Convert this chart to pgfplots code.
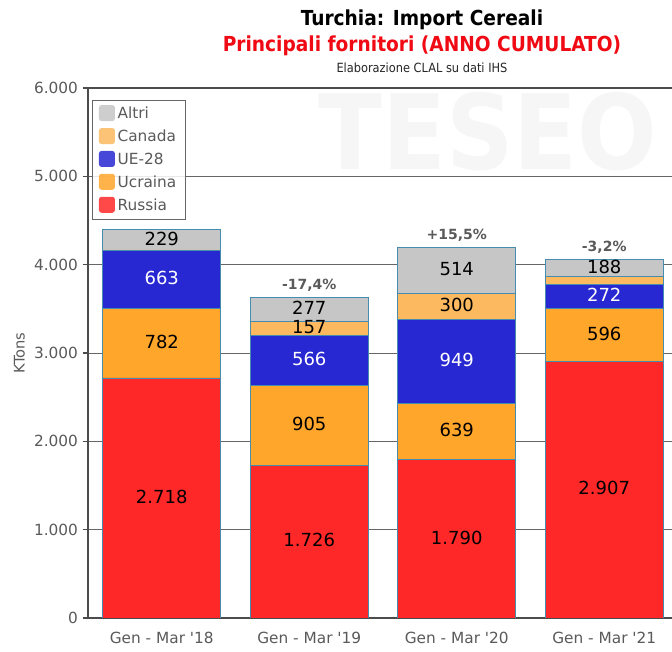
\documentclass[border=0pt]{standalone}
\usepackage{fontspec}
\setmainfont{DejaVu Sans}[Ligatures=TeXOff]
\newfontfamily\condfont{DejaVu Sans Condensed}
\usepackage{pgfplots}
\usepackage{pgfplotstable}
\pgfplotsset{compat=1.18}

\definecolor{cRussia}{RGB}{255,40,40}
\definecolor{cUcraina}{RGB}{255,166,43}
\definecolor{cUE}{RGB}{40,40,210}
\definecolor{cCanada}{RGB}{252,185,95}
\definecolor{cAltri}{RGB}{198,198,198}
\definecolor{cEdge}{RGB}{70,140,175}
\definecolor{cTxt}{RGB}{90,90,90}

\pgfplotstableread{
x russia ucraina ue canada altri
0 2718 782 663 4 229
1 1726 905 566 157 277
2 1790 639 949 300 514
3 2907 596 272 95 188
}\datatable

\pgfplotstableread{
x y lab
0 1359 2.718
0 3109 782
0 4281.5 229
1 863 1.726
1 2178.5 905
1 3275.5 157
1 3492.5 277
2 895 1.790
2 2109.5 639
2 3528 300
2 3935 514
3 1453.5 2.907
3 3205 596
3 3964 188
}\blacklabels

\pgfplotstableread{
x y lab
0 3831.5 663
1 2914 566
2 2903.5 949
3 3639 272
}\whitelabels

\pgfplotstableread{
x y lab
1 3631 {-17,4\%}
2 4192 {+15,5\%}
3 4058 {-3,2\%}
}\pctlabels

\newcommand{\ap}{{\char"27}}

\begin{document}
\begin{tikzpicture}
\useasboundingbox (0,0) rectangle (504pt,489pt);
\clip (0,0) rectangle (504pt,489pt);
\fill[white] (0,0) rectangle (504pt,489pt);

% watermark
\node[text=black!3.5, font=\condfont\bfseries\fontsize{78}{80}\selectfont] at (366pt,390pt) {TESEO};

% titles
\node[font=\condfont\bfseries\fontsize{15.5}{17}\selectfont, text=black] at (316.5pt,474pt) {Turchia: Import Cereali};
\node[font=\condfont\bfseries\fontsize{15.5}{17}\selectfont, text={rgb,255:red,240;green,10;blue,20}] at (316.5pt,455pt) {Principali fornitori (ANNO CUMULATO)};
\node[font=\condfont\fontsize{9.5}{11}\selectfont, text=black!85] at (316.5pt,438pt) {Elaborazione CLAL su dati IHS};

\begin{axis}[
  at={(66pt,25.5pt)}, anchor=south west,
  scale only axis, width=442.5pt, height=397.5pt,
  ybar stacked, bar width=0.8,
  xmin=-0.5, xmax=3.5, ymin=0, ymax=6000,
  xtick={0,1,2,3},
  xticklabels={Gen - Mar \ap18, Gen - Mar \ap19, Gen - Mar \ap20, Gen - Mar \ap21},
  x tick style={draw=none},
  extra x ticks={0.5,1.5,2.5},
  extra x tick labels={},
  extra x tick style={tick style={draw=black!70, line width=0.8pt}, major tick length=4pt, tick align=outside},
  ytick={0,1000,2000,3000,4000,5000,6000},
  y tick style={draw=black!70, line width=0.8pt},
  major tick length=4pt, tick align=outside,
  yticklabel style={/pgf/number format/1000 sep={.}, /pgf/number format/assume math mode=true},
  ticklabel style={font=\fontsize{11.5}{13}\selectfont, text=cTxt},
  xticklabel style={yshift=-3pt},
  ylabel={KTons}, ylabel style={font=\fontsize{11}{13}\selectfont, text=cTxt, yshift=0pt},
  ymajorgrids, grid style={draw=black!60, line width=0.6pt},
  axis line style={draw=black!70, line width=1.1pt},
  every axis plot/.append style={draw=cEdge, line width=0.6pt},
  reverse legend,
  legend cell align=left,
  legend style={at={(0,1)}, anchor=north west, xshift=3pt, yshift=-9pt,
    draw=black!60, fill=white, fill opacity=0.85, text opacity=1,
    font=\fontsize{11.5}{13}\selectfont, text=cTxt,
    row sep=3pt, inner xsep=5pt, inner ysep=3pt},
  legend image code/.code={\path[#1, draw=none, rounded corners=2pt] (0pt,-5.5pt) rectangle (12pt,6.5pt);},
]
\addplot[fill=cRussia] table[x=x,y=russia] {\datatable};
\addlegendentry{Russia}
\addplot[fill=cUcraina] table[x=x,y=ucraina] {\datatable};
\addlegendentry{Ucraina}
\addplot[fill=cUE] table[x=x,y=ue] {\datatable};
\addlegendentry{UE-28}
\addplot[fill=cCanada] table[x=x,y=canada] {\datatable};
\addlegendentry{Canada}
\addplot[fill=cAltri] table[x=x,y=altri] {\datatable};
\addlegendentry{Altri}
\end{axis}

\begin{axis}[
  at={(66pt,25.5pt)}, anchor=south west,
  scale only axis, width=442.5pt, height=397.5pt,
  xmin=-0.5, xmax=3.5, ymin=0, ymax=6000,
  hide axis, clip=false,
]
\addplot[draw=none, mark=none, nodes near coords, point meta=explicit symbolic,
  every node near coord/.append style={anchor=center, yshift=1pt, font=\fontsize{13.5}{15}\selectfont, text=black}]
  table[x=x,y=y,meta=lab] {\blacklabels};
\addplot[draw=none, mark=none, nodes near coords, point meta=explicit symbolic,
  every node near coord/.append style={anchor=center, yshift=1pt, font=\fontsize{13.5}{15}\selectfont, text=white}]
  table[x=x,y=y,meta=lab] {\whitelabels};
\addplot[draw=none, mark=none, nodes near coords, point meta=explicit symbolic,
  every node near coord/.append style={anchor=south, yshift=1pt, font=\bfseries\fontsize{10.5}{12}\selectfont, text=cTxt}]
  table[x=x,y=y,meta=lab] {\pctlabels};
\end{axis}
\end{tikzpicture}
\end{document}
